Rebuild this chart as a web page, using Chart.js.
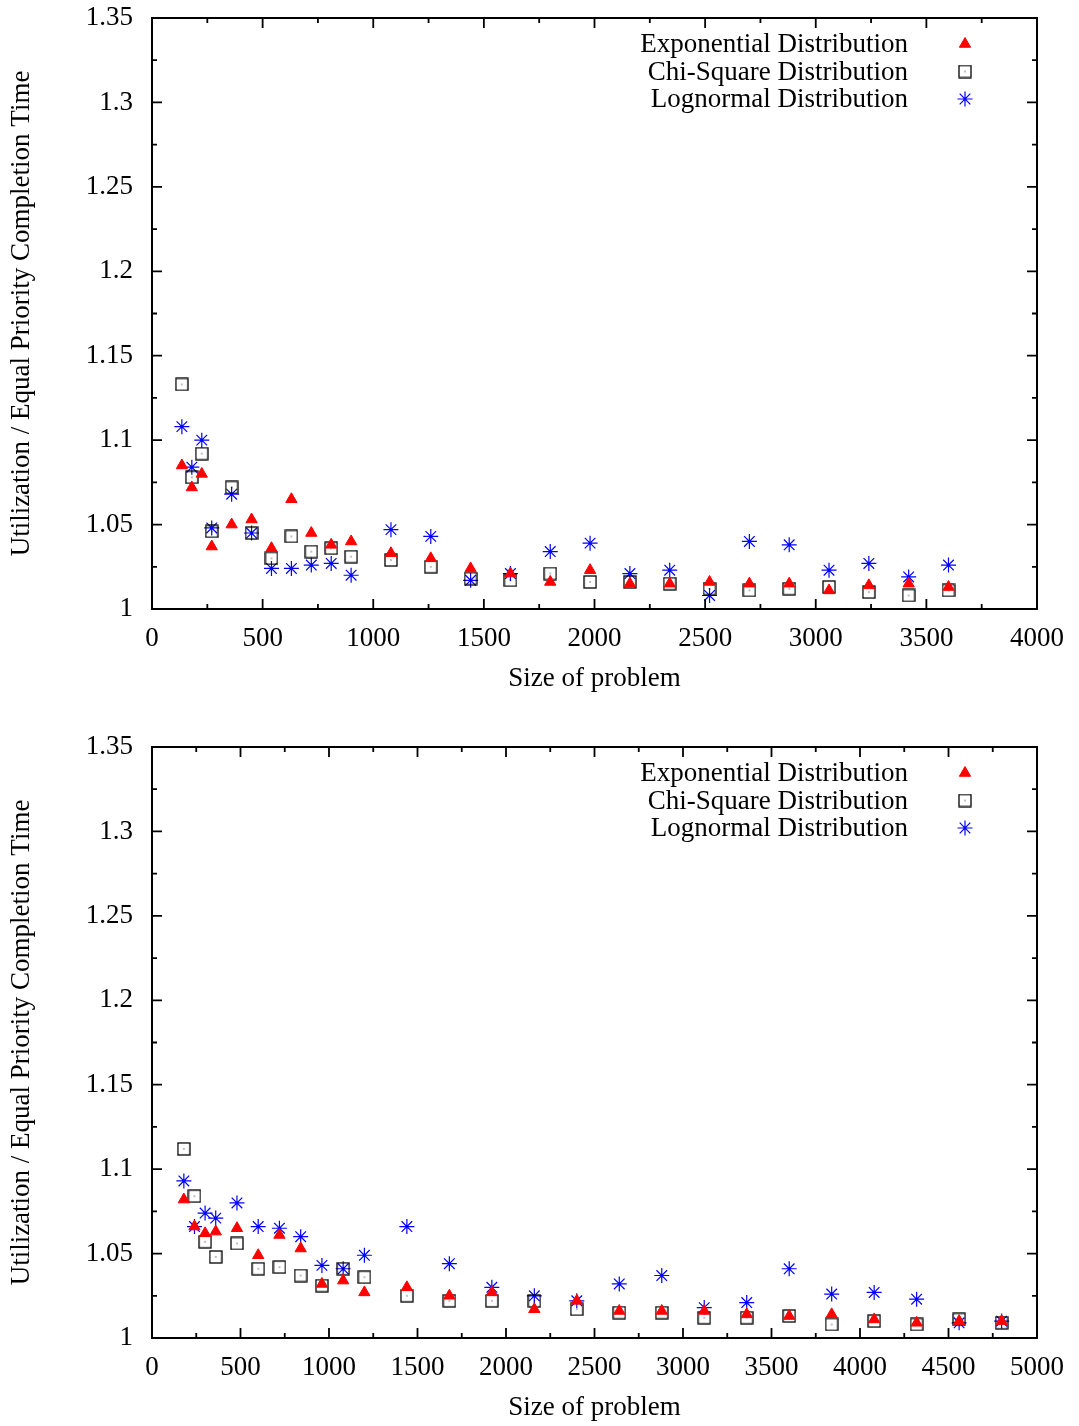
<!DOCTYPE html>
<html>
<head>
<meta charset="utf-8">
<script src="https://cdn.jsdelivr.net/npm/chart.js@4.4.0/dist/chart.umd.min.js"></script>
<style>
html, body { margin: 0; padding: 0; background: #fff; overflow: hidden; }
canvas { position: absolute; left: 0; }
#top-chart { top: 0; }
#bottom-chart { top: 729px; }
</style>
</head>
<body>
<canvas id="top-chart" width="1079" height="697"></canvas>
<canvas id="bottom-chart" width="1079" height="697"></canvas>
<script>
// values
const series_labels = ['Exponential Distribution', 'Chi-Square Distribution', 'Lognormal Distribution'];

const top_sizes = [135, 180, 225, 270, 360, 450, 540, 630, 720, 810, 900, 1080, 1260, 1440, 1620, 1800, 1980, 2160, 2340, 2520, 2700, 2880, 3060, 3240, 3420, 3600];
const top_exponential = [1.085, 1.072, 1.080, 1.037, 1.050, 1.053, 1.036, 1.065, 1.045, 1.038, 1.040, 1.033, 1.030, 1.024, 1.021, 1.016, 1.023, 1.015, 1.015, 1.016, 1.015, 1.015, 1.011, 1.014, 1.015, 1.013];
const top_chisquare = [1.133, 1.078, 1.092, 1.046, 1.072, 1.045, 1.030, 1.043, 1.034, 1.036, 1.031, 1.029, 1.025, 1.018, 1.017, 1.021, 1.016, 1.016, 1.015, 1.012, 1.011, 1.012, 1.013, 1.010, 1.008, 1.011];
const top_lognormal = [1.108, 1.084, 1.100, 1.048, 1.068, 1.045, 1.024, 1.024, 1.026, 1.027, 1.020, 1.047, 1.043, 1.017, 1.021, 1.034, 1.039, 1.021, 1.023, 1.008, 1.040, 1.038, 1.023, 1.027, 1.019, 1.026];

const bottom_sizes = [180, 240, 300, 360, 480, 600, 720, 840, 960, 1080, 1200, 1440, 1680, 1920, 2160, 2400, 2640, 2880, 3120, 3360, 3600, 3840, 4080, 4320, 4560, 4800];
const bottom_exponential = [1.082, 1.066, 1.062, 1.063, 1.065, 1.049, 1.061, 1.053, 1.032, 1.034, 1.027, 1.030, 1.025, 1.027, 1.017, 1.022, 1.016, 1.016, 1.016, 1.014, 1.013, 1.014, 1.011, 1.009, 1.010, 1.010];
const bottom_chisquare = [1.112, 1.084, 1.057, 1.048, 1.056, 1.041, 1.042, 1.037, 1.031, 1.041, 1.036, 1.025, 1.022, 1.022, 1.022, 1.017, 1.015, 1.015, 1.012, 1.012, 1.013, 1.008, 1.010, 1.008, 1.011, 1.009];
const bottom_lognormal = [1.093, 1.066, 1.074, 1.071, 1.080, 1.066, 1.065, 1.060, 1.043, 1.041, 1.049, 1.066, 1.044, 1.030, 1.025, 1.022, 1.032, 1.037, 1.018, 1.021, 1.041, 1.026, 1.027, 1.023, 1.009, 1.010];

const y_min = 1, y_max = 1.35;
const x_title = 'Size of problem';
const y_title = 'Utilization / Equal Priority Completion Time';

const FONT = "'Liberation Serif', 'DejaVu Serif', serif";
const FONT_SIZE = 27;

// open square with a dot in the middle, like gnuplot's postscript points
function box_dot(){
  const c = document.createElement('canvas');
  c.width = 14; c.height = 14;
  const g = c.getContext('2d');
  g.strokeStyle = '#000';
  g.lineWidth = 1.3;
  g.strokeRect(1, 1, 12, 12);
  g.fillStyle = '#000';
  g.fillRect(6.5, 6.5, 1, 1);
  return c;
}
const BOX = box_dot();

function pairs(xs, ys){
  return xs.map((x, i) => ({x: x, y: ys[i]}));
}

// inward ticks on all four sides plus the frame
const frame_ticks = {
  id: 'frame_ticks',
  afterDraw(chart){
    const ctx = chart.ctx;
    const a = chart.chartArea;
    const sx = chart.scales.x, sy = chart.scales.y;
    ctx.save();
    ctx.strokeStyle = '#000';
    ctx.lineWidth = 1.8;
    ctx.beginPath();
    sx.ticks.forEach(t => {
      const px = sx.getPixelForValue(t.value);
      const len = t.label ? 10 : 5;
      ctx.moveTo(px, a.bottom); ctx.lineTo(px, a.bottom - len);
      ctx.moveTo(px, a.top); ctx.lineTo(px, a.top + len);
    });
    sy.ticks.forEach(t => {
      const py = sy.getPixelForValue(t.value);
      const len = t.label ? 10 : 5;
      ctx.moveTo(a.left, py); ctx.lineTo(a.left + len, py);
      ctx.moveTo(a.right, py); ctx.lineTo(a.right - len, py);
    });
    ctx.stroke();
    ctx.lineWidth = 2;
    ctx.strokeRect(a.left, a.top, a.right - a.left, a.bottom - a.top);
    ctx.restore();
  }
};

// gnuplot style key: right aligned text, symbol on the right
const key = {
  id: 'key',
  afterDatasetsDraw(chart){
    const ctx = chart.ctx;
    const a = chart.chartArea;
    ctx.save();
    ctx.font = FONT_SIZE + 'px ' + FONT;
    ctx.textAlign = 'right';
    ctx.textBaseline = 'middle';
    chart.data.datasets.forEach((ds, i) => {
      const y = a.top + 26 + i * 27.5;
      ctx.fillStyle = '#000';
      ctx.fillText(ds.label, a.right - 129, y + 1);
      ctx.fillStyle = ds.backgroundColor;
      ctx.strokeStyle = ds.borderColor;
      ctx.lineWidth = ds.borderWidth;
      Chart.helpers.drawPoint(ctx, {
        pointStyle: ds.pointStyle,
        radius: ds.pointRadius,
        rotation: 0,
        borderWidth: ds.borderWidth
      }, a.right - 72, y);
    });
    ctx.restore();
  }
};

function build_chart(id, sizes, expo, chisq, logn, x_max){
  const ctx = document.getElementById(id);
  return new Chart(ctx, {
    type: 'scatter',
    data: {
      datasets: [
        {
          label: series_labels[0],
          data: pairs(sizes, expo),
          pointStyle: 'triangle',
          pointRadius: 6.5,
          backgroundColor: '#ff0000',
          borderColor: '#ff0000',
          borderWidth: 1
        },
        {
          label: series_labels[1],
          data: pairs(sizes, chisq),
          pointStyle: BOX,
          pointRadius: 7,
          backgroundColor: '#000',
          borderColor: '#000',
          borderWidth: 1
        },
        {
          label: series_labels[2],
          data: pairs(sizes, logn),
          pointStyle: 'star',
          pointRadius: 7.5,
          backgroundColor: '#0000ff',
          borderColor: '#0000ff',
          borderWidth: 1.2
        }
      ]
    },
    options: {
      responsive: false,
      animation: false,
      events: [],
      layout: {padding: {top: 18, right: 42, left: 0, bottom: 0}},
      plugins: {legend: {display: false}, tooltip: {enabled: false}},
      scales: {
        x: {
          type: 'linear',
          min: 0,
          max: x_max,
          grid: {display: false, drawTicks: false},
          border: {display: false},
          afterFit: s => { s.height = 88; s.paddingLeft = 0; s.paddingRight = 0; },
          ticks: {
            stepSize: 250,
            autoSkip: false,
            maxRotation: 0,
            padding: 14,
            color: '#000',
            font: {family: FONT, size: FONT_SIZE},
            callback: v => (v % 500 === 0 ? String(v) : '')
          },
          title: {
            display: true,
            text: x_title,
            color: '#000',
            font: {family: FONT, size: FONT_SIZE},
            padding: {top: 0, bottom: 2}
          }
        },
        y: {
          type: 'linear',
          min: y_min,
          max: y_max,
          grid: {display: false, drawTicks: false},
          border: {display: false},
          afterFit: s => { s.width = 152; s.paddingTop = 0; s.paddingBottom = 0; },
          ticks: {
            stepSize: 0.025,
            autoSkip: false,
            padding: 19,
            color: '#000',
            font: {family: FONT, size: FONT_SIZE},
            callback: v => (Math.round(v * 1000) % 50 === 0 ? String(Math.round(v * 100) / 100) : '')
          },
          title: {
            display: true,
            text: y_title,
            color: '#000',
            font: {family: FONT, size: FONT_SIZE},
            padding: {top: 6, bottom: 0}
          }
        }
      }
    },
    plugins: [frame_ticks, key]
  });
}

build_chart('top-chart', top_sizes, top_exponential, top_chisquare, top_lognormal, 4000);
build_chart('bottom-chart', bottom_sizes, bottom_exponential, bottom_chisquare, bottom_lognormal, 5000);
</script>
</body>
</html>
